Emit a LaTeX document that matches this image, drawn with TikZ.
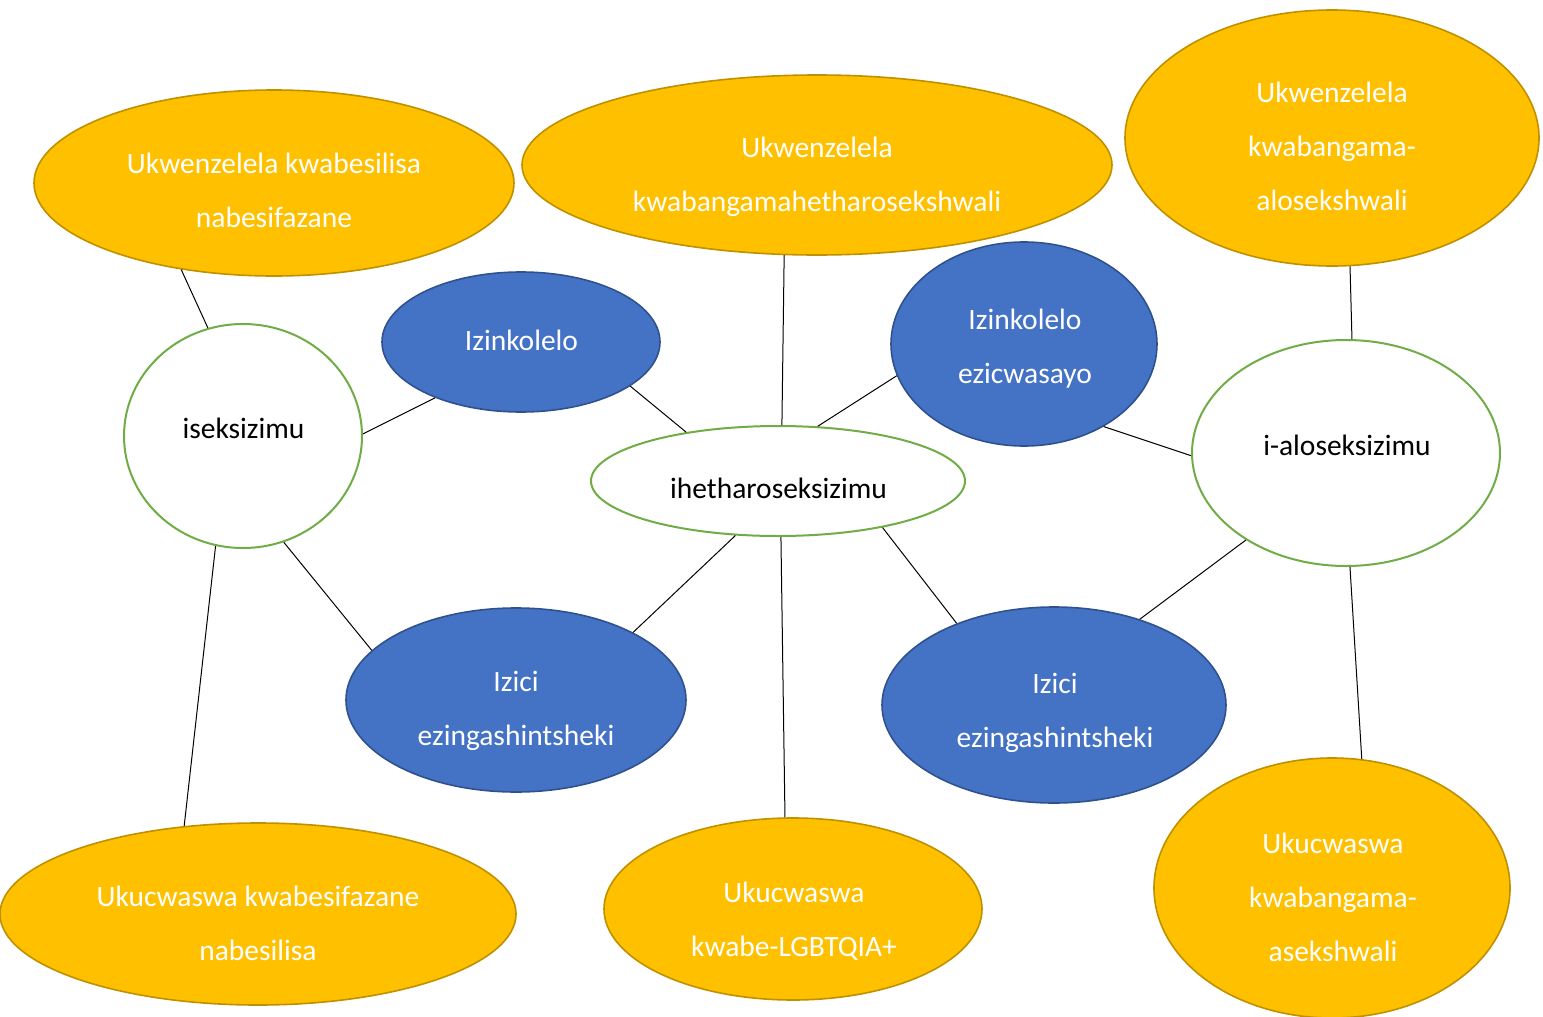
\documentclass[tikz,border=0pt]{standalone}
\usepackage{fontspec}
\setmainfont{Carlito}
\usetikzlibrary{shapes.geometric}
\definecolor{goldfill}{HTML}{FFC000}
\definecolor{goldline}{HTML}{BF9000}
\definecolor{bluefill}{HTML}{4472C4}
\definecolor{blueline}{HTML}{2F528F}
\definecolor{greenline}{HTML}{70AD47}
% strut that keeps every line the same height, so a block centres a little above its x-height
\newcommand\linestrut{\rule[-14pt]{0pt}{49pt}}
\tikzset{
  oval/.style={ellipse, inner sep=0pt, minimum width=#1},
  yel/.style={oval=10pt, fill=goldfill, draw=goldline, line width=1.6pt},
  blu/.style={oval=10pt, fill=bluefill, draw=blueline, line width=1.6pt},
  wht/.style={oval=10pt, fill=white, draw=greenline, line width=2pt},
  lbl/.style={inner sep=0pt, align=center, font=\fontsize{29.5}{54}\selectfont},
  wlbl/.style={lbl, text=white},
  klbl/.style={lbl, text=black},
  link/.style={draw=black, line width=1pt},
}
\newcommand\ovalnode[5]{\node[#1, minimum width=#4pt, minimum height=#5pt] (#2) at #3 {};}
\begin{document}
\begin{tikzpicture}[x=1pt, y=-1pt]
\useasboundingbox (0,0) rectangle (1543,1017);

% ellipses: style, name, centre, width, height
\ovalnode{yel}{e1}{(274,183)}{480}{186}
\ovalnode{yel}{e2}{(817,165)}{590}{180}
\ovalnode{yel}{e3}{(1332,138)}{414}{256}
\ovalnode{wht}{w1}{(243,436)}{238}{224}
\ovalnode{blu}{b1}{(521,342)}{278}{140}
\ovalnode{wht}{c}{(778,481)}{374}{110}
\ovalnode{blu}{b2}{(1024,344)}{266}{204}
\ovalnode{wht}{w2}{(1346,453)}{308}{226}
\ovalnode{blu}{b3}{(516,700)}{340}{184}
\ovalnode{blu}{b4}{(1054,705)}{344}{196}
\ovalnode{yel}{y4}{(258,914)}{516}{182}
\ovalnode{yel}{y5}{(793,909)}{378}{182}
\ovalnode{yel}{y6}{(1332,888)}{356}{260}

% connectors
\draw[link] (e1.223) -- (w1.108);
\draw[link] (w1.1) -- (b1.213);
\draw[link] (b1.-22) -- (c.152);
\draw[link] (e2.250) -- (c.86);
\draw[link] (c.54) -- (b2.194);
\draw[link] (b2.-46) -- (w2.181);
\draw[link] (e3.-82) -- (w2.87);
\draw[link] (w1.-69) -- (b3.161);
\draw[link] (w1.256) -- (y4.130);
\draw[link] (c.232) -- (b3.30);
\draw[link] (c.-87) -- (y5.95);
\draw[link] (c.-24) -- (b4.140);
\draw[link] (w2.221) -- (b4.45);
\draw[link] (w2.-88) -- (y6.77);

% labels
\node[wlbl] (t-e1) at (274,190) {\linestrut Ukwenzelela kwabesilisa\\\linestrut nabesifazane};
\node[wlbl] (t-e2) at (817,173.5) {\linestrut Ukwenzelela\\\linestrut kwabangamahetharosekshwali};
\node[wlbl] (t-e3) at (1332,146) {\linestrut Ukwenzelela\\\linestrut kwabangama-\\\linestrut alosekshwali};
\node[klbl] (t-w1) at (243.5,428) {\linestrut iseksizimu};
\node[wlbl] (t-b1) at (521.5,340) {\linestrut Izinkolelo};
\node[klbl] (t-c) at (778.5,488) {\linestrut ihetharoseksizimu};
\node[wlbl] (t-b2) at (1025,346) {\linestrut Izinkolelo\\\linestrut ezicwasayo};
\node[klbl] (t-w2) at (1347,445) {\linestrut i-aloseksizimu};
\node[wlbl] (t-b3) at (516,708) {\linestrut Izici\\\linestrut ezingashintsheki};
\node[wlbl] (t-b4) at (1055,709.5) {\linestrut Izici\\\linestrut ezingashintsheki};
\node[wlbl] (t-y4) at (258,923) {\linestrut Ukucwaswa kwabesifazane\\\linestrut nabesilisa};
\node[wlbl] (t-y5) at (794,918.5) {\linestrut Ukucwaswa\\\linestrut kwabe-LGBTQIA+};
\node[wlbl] (t-y6) at (1333,897) {\linestrut Ukucwaswa\\\linestrut kwabangama-\\\linestrut asekshwali};
\end{tikzpicture}
\end{document}
